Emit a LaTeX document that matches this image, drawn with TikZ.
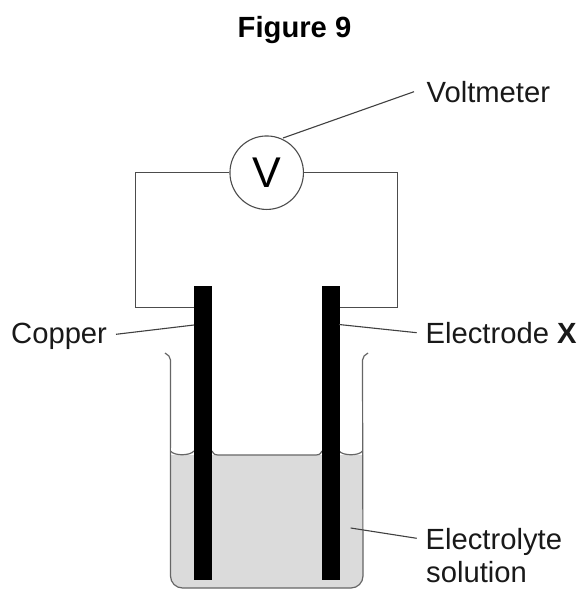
\documentclass[tikz,border=0pt]{standalone}
\usepackage{fontspec}
\setmainfont{Liberation Sans}
\begin{document}
\begin{tikzpicture}[x=1pt,y=-1pt,
  wire/.style={draw=black!70,line width=1.1pt},
  lead/.style={draw=black!75,line width=1.1pt},
  glass/.style={draw=black!60,line width=1.2pt},
  lab/.style={inner sep=0pt,anchor=base west,font=\fontsize{29.2}{32}\selectfont,text=black!90},
  rod/.style={fill=black,draw=none}]
\useasboundingbox (0,0) rectangle (582,589);
\fill[white] (0,0) rectangle (582,589);
% liquid
\fill[black!14] (170.5,455) -- (170.5,576) arc[start angle=180,end angle=90,radius=12] -- (351,588) arc[start angle=90,end angle=0,radius=12] -- (363,455) -- cycle;
% beaker
\draw[glass] (165,353) .. controls (168,354.5) and (170.5,357) .. (170.5,360) -- (170.5,576) arc[start angle=180,end angle=90,radius=12] -- (351,588) arc[start angle=90,end angle=0,radius=12] -- (362.5,360) .. controls (362.5,357) and (365,354.5) .. (368,353);
% liquid surface
\fill[white] (171.2,448) -- (171.2,451) .. controls (174,456) and (190,456) .. (194,451) -- (194,448) -- cycle;
\fill[white] (339,448) -- (339,451) .. controls (343,456) and (359,456) .. (361.8,451) -- (361.8,448) -- cycle;
\fill[white] (212,448) -- (212,451) .. controls (214,455) and (216,455) .. (218,455) -- (316,455) .. controls (318,455) and (320,455) .. (322,451) -- (322,448) -- cycle;
\draw[glass] (170.5,451) .. controls (174,456) and (190,456) .. (194,451);
\draw[glass] (339,451) .. controls (343,456) and (359,456) .. (362.5,451);
\draw[glass] (212,451) .. controls (214,455) and (216,455) .. (218,455) -- (316,455) .. controls (318,455) and (320,455) .. (322,451);
% electrodes
\node[rod,minimum width=18pt,minimum height=293.5pt,inner sep=0pt] (elL) at (203,433.2) {};
\node[rod,minimum width=18pt,minimum height=293.5pt,inner sep=0pt] (elR) at (330.5,433.2) {};
% voltmeter
\node[circle,draw=black!70,line width=1.1pt,fill=white,minimum size=73.5pt,inner sep=0pt,font=\fontsize{43}{43}\selectfont] (vm) at (266.7,172.7) {V};
% circuit
\draw[wire] (vm.west) -- (135.7,172.7) -- (135.7,307.3) -- (elL.west |- 0,307.3);
\draw[wire] (vm.east) -- (397.3,172.7) -- (397.3,307.3) -- (elR.east |- 0,307.3);
% labels
\node[anchor=base,inner sep=0pt,font=\bfseries\fontsize{29.2}{32}\selectfont] (title) at (294.5,37.5) {Figure 9};
\node[lab] (lv) at (426.5,102) {Voltmeter};
\node[lab] (lc) at (11,343.5) {Copper};
\node[lab] (le) at (425.5,343.5) {Electrode \textbf{X}};
\node[lab] (ls) at (425.5,549.8) {Electrolyte};
\node[lab] (ls2) at (426,582.5) {solution};
% leaders
\coordinate (a1) at (414,91.7);
\coordinate (a2) at (283,138);
\coordinate (b1) at (116,334.3);
\coordinate (b2) at (194,325);
\coordinate (c1) at (416.7,332.7);
\coordinate (c2) at (339,324.5);
\coordinate (d1) at (416.7,538.3);
\coordinate (d2) at (350.7,528);
\draw[lead] (a1) -- (a2);
\draw[lead] (b1) -- (b2);
\draw[lead] (c1) -- (c2);
\draw[lead] (d1) -- (d2);
\end{tikzpicture}
\end{document}
